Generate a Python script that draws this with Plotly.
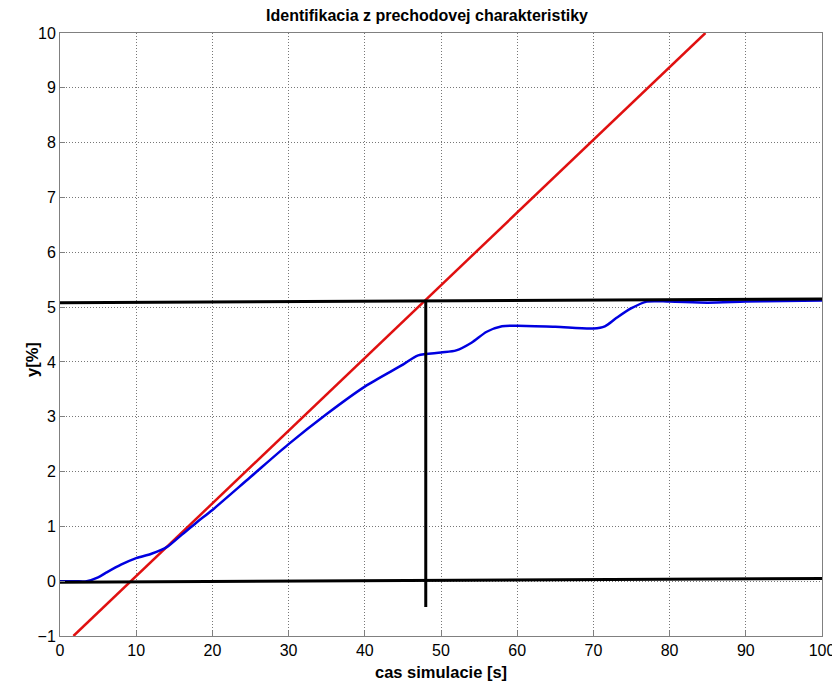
import plotly.graph_objects as go

# blue: measured step response
t_resp = [0, 2, 3.5, 5, 6, 8, 10, 12, 14, 16, 18, 20, 25, 30, 35, 40, 45, 47, 50, 52,
          54, 56, 58, 60, 65, 70, 71.5, 73, 75, 77, 80, 85, 90, 95, 100]
y_resp = [0, 0, 0.0, 0.07, 0.15, 0.3, 0.42, 0.5, 0.62, 0.85, 1.08, 1.3, 1.9, 2.5, 3.05,
          3.55, 3.95, 4.12, 4.17, 4.21, 4.35, 4.55, 4.65, 4.66, 4.64, 4.61, 4.65, 4.8,
          4.98, 5.1, 5.1, 5.08, 5.1, 5.11, 5.12]

# red: tangent at the inflection point
t_tan = [1.76, 84.7]
y_tan = [-1.0, 10.0]

# black helper lines
t_top = [0, 100.6]
y_top = [5.08, 5.15]
t_zero = [0, 100]
y_zero = [-0.02, 0.05]
t_vert = [48, 48]
y_vert = [5.13, -0.47]

x_ticks = list(range(0, 101, 10))
y_ticks = list(range(-1, 11))

# the page body has an 8px margin, so the figure is 8px smaller than the window
W, H = 832, 678
L, R, T, B = 52, 18, 25, 50
pw, ph = W - L - R, H - T - B

fig = go.Figure()
fig.add_trace(go.Scatter(x=t_tan, y=y_tan, mode="lines",
                         line=dict(color="#e01010", width=2.5)))
fig.add_trace(go.Scatter(x=t_resp, y=y_resp, mode="lines", line_shape="spline",
                         line=dict(color="#0000e0", width=2.5, smoothing=0.8)))
for xs, ys in [(t_top, y_top), (t_zero, y_zero), (t_vert, y_vert)]:
    fig.add_trace(go.Scatter(x=xs, y=ys, mode="lines",
                             line=dict(color="black", width=3), cliponaxis=False))

axis_common = dict(
    showline=True, linecolor="#808080", linewidth=1, mirror=True,
    ticks="inside", ticklen=5, tickcolor="#808080",
    showgrid=True, gridcolor="#777777", griddash="1px,2px", gridwidth=1,
    zeroline=False, tickfont=dict(size=16, color="black"), automargin=False,
)
fig.update_xaxes(range=[0, 100], tickvals=x_ticks, **axis_common)
fig.update_yaxes(range=[-1, 10], tickvals=y_ticks, **axis_common)

fig.update_layout(
    width=W, height=H,
    margin=dict(l=L, r=R, t=T, b=B, autoexpand=False),
    plot_bgcolor="white", paper_bgcolor="white",
    font=dict(family="Arial, Liberation Sans, sans-serif"),
    showlegend=False,
    title=dict(text="<b>Identifikacia z prechodovej charakteristiky</b>",
               xref="container", x=419 / W, xanchor="center",
               yref="container", y=1 - 7 / H, yanchor="middle",
               font=dict(size=16, color="black")),
    annotations=[
        dict(text="<b>cas simulacie [s]</b>", xref="paper", yref="paper",
             x=0.5, y=-36 / ph, xanchor="center", yanchor="middle",
             showarrow=False, font=dict(size=16.5, color="black")),
        dict(text="<b>y[%]</b>", xref="paper", yref="paper",
             x=-28 / pw, y=276 / ph, xanchor="center", yanchor="middle",
             textangle=-90, showarrow=False, font=dict(size=16.5, color="black")),
    ],
)
fig.write_html("out.html")
